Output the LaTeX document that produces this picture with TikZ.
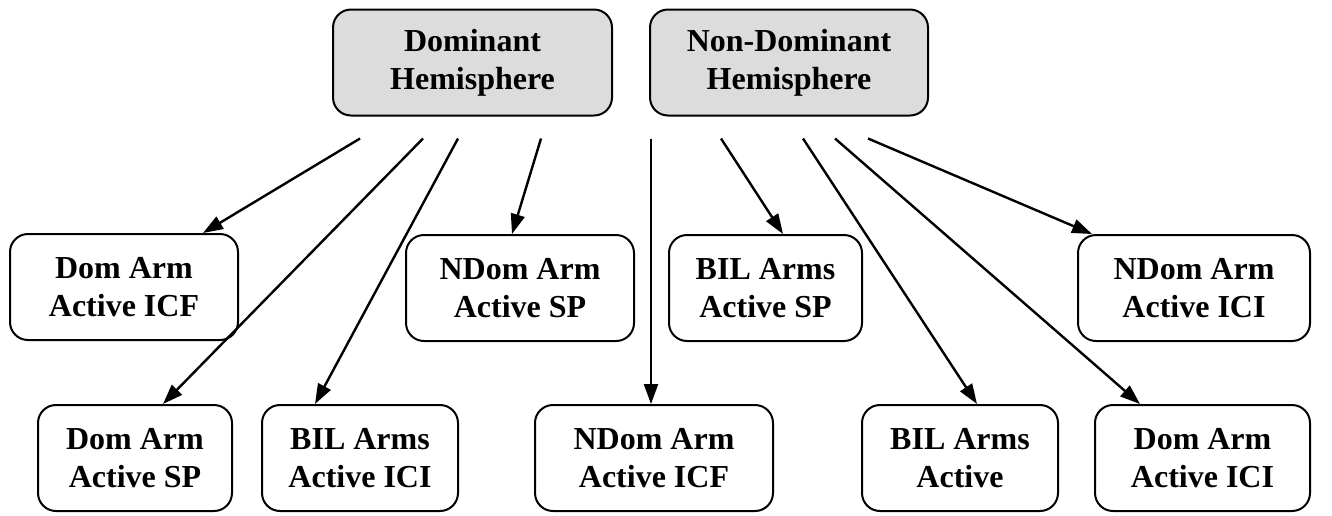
\documentclass[tikz,border=0pt]{standalone}
\usepackage{fontspec}
\setmainfont{Liberation Serif}
\usetikzlibrary{arrows.meta, positioning}
\definecolor{hemigray}{RGB}{220,220,220}
\tikzset{
	box/.style  = {draw, line width=1pt, rounded corners=9pt, align=center,
	               font=\bfseries\fontsize{16}{19}\selectfont, minimum height=53pt},
	hemi/.style = {box, fill=hemigray},
	arr/.style  = {line width=1.2pt, -{Triangle[length=10pt,width=7pt]}},
}

\begin{document}
\begin{tikzpicture}[x=0.5pt, y=-0.5pt]
		\useasboundingbox (0,0) rectangle (1332,515);
		% hemispheres
		\node[hemi, minimum width=139.5pt] (dom)  at ( 472.5, 62.5) {Dominant\\Hemisphere};
		\node[hemi, minimum width=139pt]   (ndom) at ( 789,   62.5) {Non-Dominant\\Hemisphere};
		% first row
		\node[box, minimum width=114pt] (dICF)  at ( 124,  287) {Dom Arm\\Active ICF};
		\node[box, minimum width=114pt] (nSP)   at ( 520,  288) {NDom Arm\\Active SP};
		\node[box, minimum width=96.5pt](bSP)   at ( 765.5,288) {BIL Arms\\Active SP};
		\node[box, minimum width=116pt] (nICI)  at (1194,  288) {NDom Arm\\Active ICI};
		% second row
		\node[box, minimum width=97pt]  (dSP)   at ( 135,  458) {Dom Arm\\Active SP};
		\node[box, minimum width=98pt]  (bICI)  at ( 360,  458) {BIL Arms\\Active ICI};
		\node[box, minimum width=119pt] (nICF)  at ( 654,  458) {NDom Arm\\Active ICF};
		\node[box, minimum width=98pt]  (bAct)  at ( 960,  458) {BIL Arms\\Active};
		\node[box, minimum width=107.5pt](dICI) at (1202.5,458) {Dom Arm\\Active ICI};
		% arrow tails below the hemispheres
		\coordinate (d1) at ([shift={(-112.5,22)}]dom.south);
		\coordinate (d2) at ([shift={( -49.5,22)}]dom.south);
		\coordinate (d3) at ([shift={( -14.5,22)}]dom.south);
		\coordinate (d4) at ([shift={(  68.5,22)}]dom.south);
		\coordinate (n1) at ([shift={(-138,22)}]ndom.south);
		\coordinate (n2) at ([shift={( -68,22)}]ndom.south);
		\coordinate (n3) at ([shift={(  14,22)}]ndom.south);
		\coordinate (n4) at ([shift={(  46,22)}]ndom.south);
		\coordinate (n5) at ([shift={(  79,22)}]ndom.south);
		\draw[arr] (d1) -- ([shift={(  79,0)}]dICF.north);
		\draw[arr] (d2) -- ([shift={(  28,0)}]dSP.north);
		\draw[arr] (d3) -- ([shift={( -45,0)}]bICI.north);
		\draw[arr] (d4) -- ([shift={(  -8,0)}]nSP.north);
		\draw[arr] (n1) -- (n1 |- nICF.north);
		\draw[arr] (n2) -- ([shift={(17.5,0)}]bSP.north);
		\draw[arr] (n3) -- ([shift={(  17,0)}]bAct.north);
		\draw[arr] (n4) -- ([shift={(-62.5,0)}]dICI.north);
		\draw[arr] (n5) -- ([shift={(-102,0)}]nICI.north);
	\end{tikzpicture}
\end{document}
